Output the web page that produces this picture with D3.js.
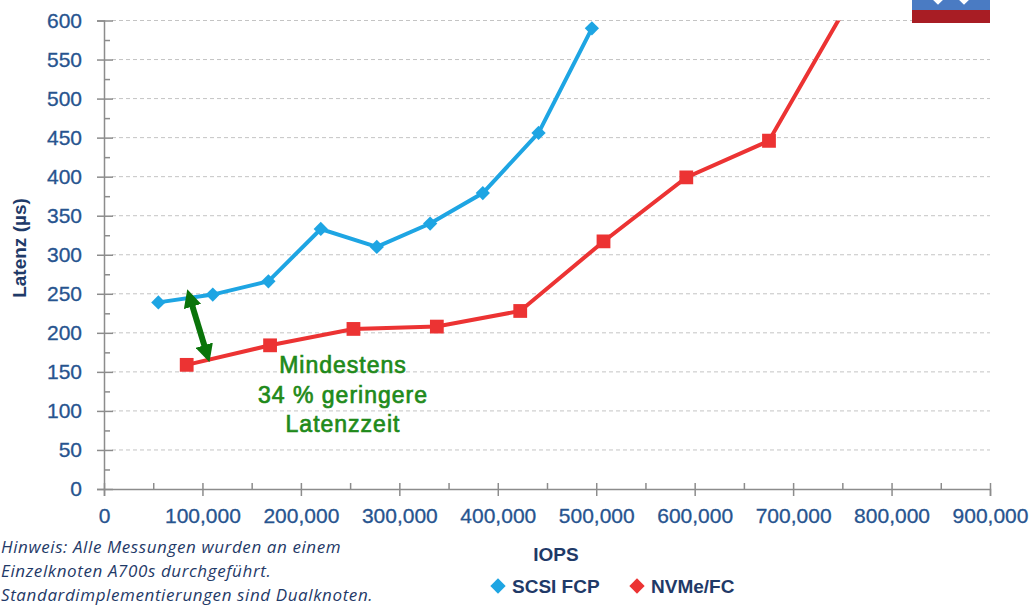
<!DOCTYPE html>
<html>
<head>
<meta charset="utf-8">
<script src="https://cdn.jsdelivr.net/npm/d3@7"></script>
<style>
    body { margin: 0; background: #fff; }
    svg { display: block; font-family: "Liberation Sans", Arial, sans-serif; }
</style>
</head>
<body>
<svg id="latencyChart"></svg>
<script>
/** Chart data **/
var scsi_iops    = [55200, 110500, 167000, 220200, 277100, 331300, 384800, 441400, 495600];
var scsi_latency = [239, 249, 266, 333, 310, 340, 379, 456, 590];

var nvme_iops    = [84000, 168700, 253400, 338100, 422800, 507400, 591500, 675500, 760000];
var nvme_latency = [159, 184, 205, 208, 228, 317, 399, 446, 631];

var y_ticks      = [0, 50, 100, 150, 200, 250, 300, 350, 400, 450, 500, 550, 600];
var y_minor      = [25, 75, 125, 175, 225, 275, 325, 375, 425, 475, 525, 575];
var x_ticks      = [0, 100000, 200000, 300000, 400000, 500000, 600000, 700000, 800000, 900000];
var x_minor      = [50000, 150000, 250000, 350000, 450000, 550000, 650000, 750000, 850000];

var series_names = ["SCSI FCP", "NVMe/FC"];
var note_lines   = ["Hinweis: Alle Messungen wurden an einem",
                    "Einzelknoten A700s durchgeführt.",
                    "Standardimplementierungen sind Dualknoten."];
var callout_lines = ["Mindestens", "34 % geringere", "Latenzzeit"];
// arrow between the two curves, in data units
var arrow_from   = [86700, 247];
var arrow_to     = [105000, 171];


function drawChart()
{
    var mod_width   = 1034;
    var mod_height  = 608;

    var color_scsi  = '#1ea5e3';
    var color_nvme  = '#ec3333';
    var color_axis  = '#8c8c8c';
    var color_grid  = '#c4c4c4';
    var color_tick  = '#27548f';
    var color_text  = '#1f3a68';
    var color_note  = '#1f8a1a';
    var color_arrow = '#0a740a';

    var svg = d3.select("#latencyChart")
        .attr("width", mod_width)
        .attr("height", mod_height);

    var xScale = d3.scaleLinear()
        .domain([0, 900000])
        .range([104, 990]);

    var yScale = d3.scaleLinear()
        .domain([0, 600])
        .range([489, 20.5]);

    // Gridlines (dashed).
    svg.append("g")
        .selectAll("line")
        .data(y_ticks.slice(1))
        .enter()
        .append("line")
        .attr("x1", xScale(0) + 8)
        .attr("x2", xScale(900000))
        .attr("y1", function(d) { return yScale(d); })
        .attr("y2", function(d) { return yScale(d); })
        .style("stroke", color_grid)
        .style("stroke-width", 1)
        .style("stroke-dasharray", "4,3");

    // Y axis, major ticks crossing the line.
    var yAxis = d3.axisLeft(yScale)
        .tickValues(y_ticks)
        .tickSize(7)
        .tickFormat(d3.format("d"));

    var gy = svg.append("g")
        .attr("transform", "translate(" + xScale(0) + ",0)")
        .call(yAxis);

    gy.select(".domain").style("stroke", color_axis).style("stroke-width", 1.5);
    gy.selectAll(".tick line")
        .attr("x1", 9)
        .attr("x2", -7)
        .style("stroke", color_axis)
        .style("stroke-width", 1.5);
    gy.selectAll(".tick text")
        .attr("x", -22)
        .style("font-size", "21px")
        .style("fill", color_tick)
        .style("stroke", color_tick)
        .style("stroke-width", 0.3);

    var yMinor = d3.axisRight(yScale)
        .tickValues(y_minor)
        .tickSize(6)
        .tickFormat("");

    var gym = svg.append("g")
        .attr("transform", "translate(" + xScale(0) + ",0)")
        .call(yMinor);
    gym.select(".domain").remove();
    gym.selectAll(".tick line").style("stroke", color_axis).style("stroke-width", 1.5);

    // X axis.
    var xAxis = d3.axisBottom(xScale)
        .tickValues(x_ticks)
        .tickSize(7)
        .tickFormat(d3.format(","));

    var gx = svg.append("g")
        .attr("transform", "translate(0," + yScale(0) + ")")
        .call(xAxis);

    gx.select(".domain").style("stroke", color_axis).style("stroke-width", 1.5);
    gx.selectAll(".tick line")
        .attr("y1", -6)
        .attr("y2", 7)
        .style("stroke", color_axis)
        .style("stroke-width", 1.5);
    gx.selectAll(".tick text")
        .attr("y", 34)
        .attr("dy", 0)
        .style("font-size", "21px")
        .style("fill", color_tick)
        .style("stroke", color_tick)
        .style("stroke-width", 0.3);

    var xMinor = d3.axisTop(xScale)
        .tickValues(x_minor)
        .tickSize(6)
        .tickFormat("");

    var gxm = svg.append("g")
        .attr("transform", "translate(0," + yScale(0) + ")")
        .call(xMinor);
    gxm.select(".domain").remove();
    gxm.selectAll(".tick line").style("stroke", color_axis).style("stroke-width", 1.5);

    // Axis titles.
    svg.append("text")
        .attr("transform", "translate(26," + 248 + ") rotate(-90)")
        .attr("text-anchor", "middle")
        .style("font-size", "19px")
        .style("font-weight", "bold")
        .style("fill", color_text)
        .text("Latenz (µs)");

    svg.append("text")
        .attr("x", 556)
        .attr("y", 561)
        .attr("text-anchor", "middle")
        .style("font-size", "19px")
        .style("font-weight", "bold")
        .style("fill", color_text)
        .text("IOPS");

    // Clip so the NVMe curve leaves the plot at 600.
    svg.append("clipPath")
        .attr("id", "plotClip")
        .append("rect")
        .attr("x", xScale(0))
        .attr("y", yScale(600))
        .attr("width", xScale(900000) - xScale(0))
        .attr("height", yScale(0) - yScale(600));

    var line = d3.line()
        .x(function(d) { return xScale(d[0]); })
        .y(function(d) { return yScale(d[1]); });

    var scsiData = d3.zip(scsi_iops, scsi_latency);
    var nvmeData = d3.zip(nvme_iops, nvme_latency);

    var plot = svg.append("g").attr("clip-path", "url(#plotClip)");

    plot.append("path")
        .datum(scsiData)
        .attr("d", line)
        .style("fill", "none")
        .style("stroke", color_scsi)
        .style("stroke-width", 4);

    plot.append("path")
        .datum(nvmeData)
        .attr("d", line)
        .style("fill", "none")
        .style("stroke", color_nvme)
        .style("stroke-width", 4);

    var diamond = d3.symbol().type(d3.symbolDiamond2).size(130);
    var square  = d3.symbol().type(d3.symbolSquare).size(190);

    plot.append("g")
        .selectAll("path")
        .data(scsiData)
        .enter()
        .append("path")
        .attr("d", diamond)
        .attr("transform", function(d) {
            return "translate(" + xScale(d[0]) + "," + yScale(d[1]) + ")";
        })
        .style("fill", color_scsi);

    plot.append("g")
        .selectAll("path")
        .data(nvmeData)
        .enter()
        .append("path")
        .attr("d", square)
        .attr("transform", function(d) {
            return "translate(" + xScale(d[0]) + "," + yScale(d[1]) + ")";
        })
        .style("fill", color_nvme);

    // Double-headed green arrow.
    var defs = svg.append("defs");
    defs.append("marker")
        .attr("id", "arrowHead")
        .attr("viewBox", "0 0 10 10")
        .attr("refX", 6)
        .attr("refY", 5)
        .attr("markerWidth", 3)
        .attr("markerHeight", 3)
        .attr("orient", "auto-start-reverse")
        .append("path")
        .attr("d", "M0,0 L10,5 L0,10 Z")
        .style("fill", color_arrow);

    svg.append("line")
        .attr("x1", xScale(arrow_from[0]))
        .attr("y1", yScale(arrow_from[1]))
        .attr("x2", xScale(arrow_to[0]))
        .attr("y2", yScale(arrow_to[1]))
        .attr("marker-start", "url(#arrowHead)")
        .attr("marker-end", "url(#arrowHead)")
        .style("stroke", color_arrow)
        .style("stroke-width", 6);

    svg.append("g")
        .selectAll("text")
        .data(callout_lines)
        .enter()
        .append("text")
        .attr("x", 343)
        .attr("y", function(d, i) { return 373 + i * 29.5; })
        .attr("text-anchor", "middle")
        .style("font-size", "23px")
        .style("letter-spacing", "1px")
        .style("fill", color_note)
        .style("stroke", color_note)
        .style("stroke-width", 0.7)
        .text(function(d) { return d; });

    // Footnote.
    svg.append("g")
        .selectAll("text")
        .data(note_lines)
        .enter()
        .append("text")
        .attr("x", 1)
        .attr("y", function(d, i) { return 553 + i * 24; })
        .style("font-family", "'Open Sans', sans-serif")
        .style("font-style", "italic")
        .style("font-size", "17px")
        .style("letter-spacing", "0.6px")
        .style("fill", color_text)
        .text(function(d) { return d; });

    // Legend.
    var legend_x = [498, 637];
    var legend_colors = [color_scsi, color_nvme];
    var legDiamond = d3.symbol().type(d3.symbolDiamond2).size(150);

    var leg = svg.append("g")
        .selectAll("g")
        .data(series_names)
        .enter()
        .append("g")
        .attr("transform", function(d, i) { return "translate(" + legend_x[i] + ",586)"; });

    leg.append("path")
        .attr("d", legDiamond)
        .style("fill", function(d, i) { return legend_colors[i]; });

    leg.append("text")
        .attr("x", 14)
        .attr("y", 7)
        .style("font-size", "19px")
        .style("font-weight", "bold")
        .style("fill", color_text)
        .text(function(d) { return d; });

    // Cropped logo in the top right corner.
    var logo = svg.append("g");
    logo.append("rect")
        .attr("x", 912).attr("y", 0)
        .attr("width", 78).attr("height", 10)
        .style("fill", "#4a7bc3");
    logo.append("rect")
        .attr("x", 912).attr("y", 10)
        .attr("width", 78).attr("height", 13)
        .style("fill", "#a81d24");
    logo.selectAll("path.dia")
        .data([938, 964])
        .enter()
        .append("path")
        .attr("class", "dia")
        .attr("d", d3.symbol().type(d3.symbolDiamond2).size(60))
        .attr("transform", function(d) { return "translate(" + d + ",0)"; })
        .style("fill", "#fff");
}

drawChart();
</script>
</body>
</html>
